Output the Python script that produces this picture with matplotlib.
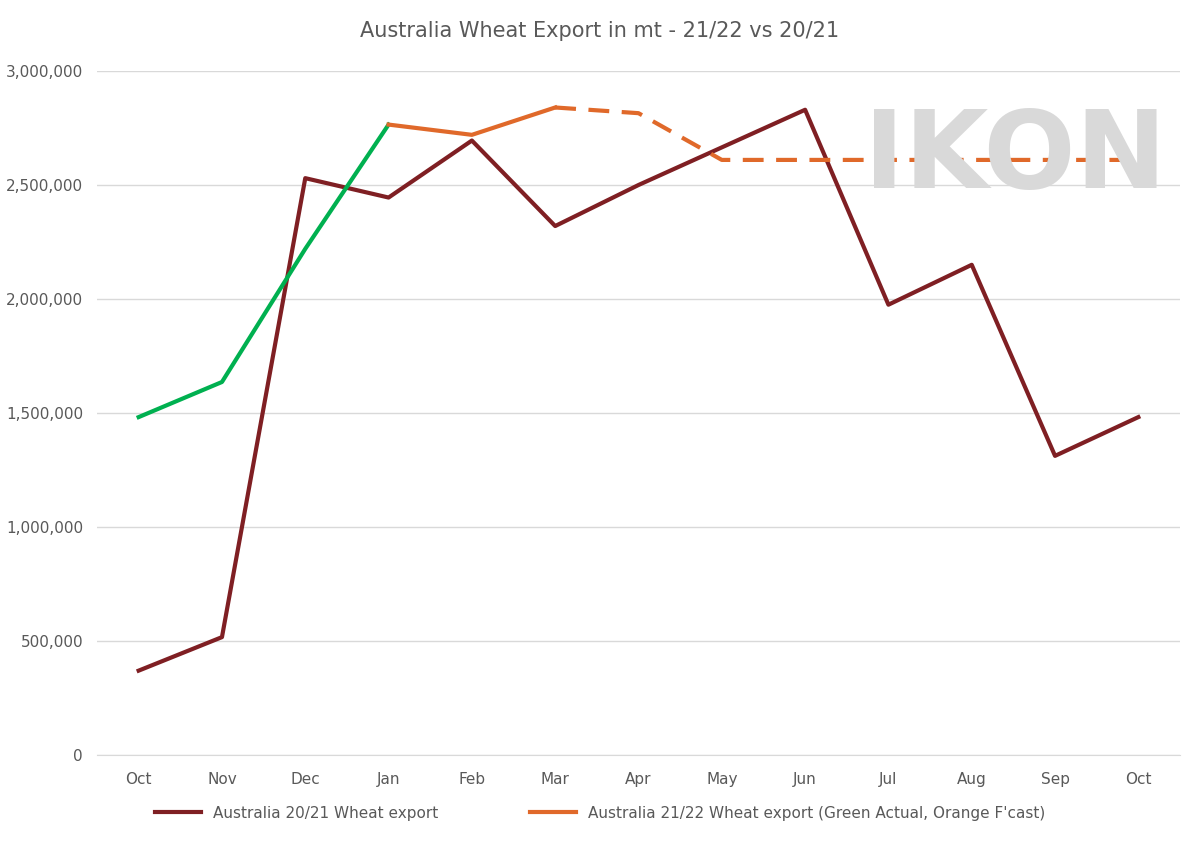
import matplotlib.pyplot as plt

months = ["Oct", "Nov", "Dec", "Jan", "Feb", "Mar", "Apr", "May", "Jun", "Jul", "Aug", "Sep", "Oct"]
exp_2021 = [370000, 517000, 2530000, 2445000, 2695000, 2320000, 2500000, 2665000, 2830000, 1975000, 2150000, 1312000, 1482000]
actual_2122 = [1482000, 1636000, 2220000, 2765000]
fcast_solid = [2765000, 2720000, 2840000]
fcast_dash = [2840000, 2815000, 2610000, 2610000, 2610000, 2610000, 2610000, 2610000]

fig = plt.figure(figsize=(12, 8.43), dpi=100)
ax = fig.add_axes([97 / 1200, 1 - 755 / 843, 1083 / 1200, 684 / 843])

x = list(range(len(months)))
ax.text(1015 / 1200 * 1200, 0, "")
fig.text(1015 / 1200, 1 - 158 / 843, "IKON", color="#d9d9d9", fontsize=78, fontweight="bold",
         ha="center", va="center", zorder=0)

ax.plot(x, exp_2021, color="#7f1f23", lw=3, label="Australia 20/21 Wheat export", zorder=3)
ax.plot(x[:4], actual_2122, color="#00b050", lw=3, zorder=3)
ax.plot(x[3:6], fcast_solid, color="#e0692a", lw=3, label="Australia 21/22 Wheat export (Green Actual, Orange F'cast)", zorder=3)
ax.plot(x[5:], fcast_dash, color="#e0692a", lw=3, ls=(0, (5, 3)), zorder=3)

ax.set_xlim(-0.5, 12.5)
ax.set_ylim(0, 3000000)
ax.set_xticks(x)
ax.set_xticklabels(months)
ax.set_yticks(range(0, 3000001, 500000))
ax.set_yticklabels([f"{v:,}" for v in range(0, 3000001, 500000)])
ax.grid(axis="y", color="#d9d9d9", lw=1)
ax.set_axisbelow(True)
for s in ["top", "right", "left"]:
    ax.spines[s].set_visible(False)
ax.spines["bottom"].set_color("#d9d9d9")
ax.tick_params(length=0, colors="#595959", labelsize=11, pad=12)
ax.tick_params(axis="y", pad=10)

fig.suptitle("Australia Wheat Export in mt - 21/22 vs 20/21", y=0.975, fontsize=15, color="#595959")
fig.legend(loc="lower center", ncol=2, frameon=False, fontsize=11, bbox_to_anchor=(0.5, 0.01),
           labelcolor="#595959", handlelength=3, columnspacing=6)
fig.savefig("out.png")
